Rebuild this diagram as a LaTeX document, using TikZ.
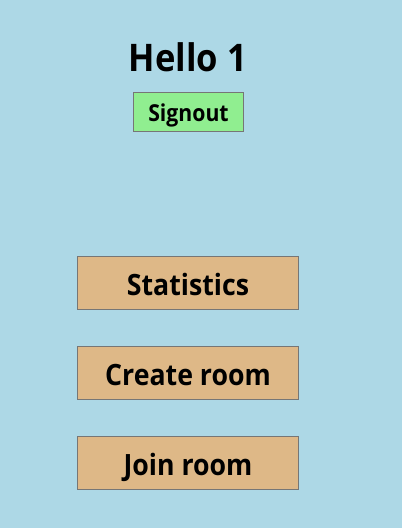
\documentclass[tikz,border=0pt]{standalone}
\usepackage{fontspec}
\setmainfont[FakeStretch=0.91]{Open Sans}
\definecolor{bg}{HTML}{ADD8E6}
\definecolor{btn}{HTML}{DEB887}
\definecolor{sgn}{HTML}{90EE90}
\definecolor{edge}{HTML}{767676}
\tikzset{
  btnbox/.style={draw=edge, line width=0.9pt, fill=btn},
  sgnbox/.style={draw=edge, line width=0.9pt, fill=sgn},
  btnlabel/.style={anchor=base, inner sep=0pt, font=\fontsize{22}{26}\selectfont\bfseries},
}
\begin{document}
\begin{tikzpicture}[x=0.75pt, y=-0.75pt]
\fill[bg] (0,0) rectangle (402,528);
\useasboundingbox (0,0) rectangle (402,528);
\node[anchor=base, inner sep=0pt, font=\fontsize{28.5}{32}\selectfont\bfseries] (hello) at (188,71) {Hello 1};
\draw[sgnbox] (133.5,92.5) rectangle (243.5,131.5);
\node[anchor=base, inner sep=0pt, font=\fontsize{17.5}{20}\selectfont\bfseries] (signout) at (188.5,121) {Signout};
\draw[btnbox] (77.5,256.5) rectangle (298.5,309.5);
\node[btnlabel] (stats) at (188,295) {Statistics};
\draw[btnbox] (77.5,346.5) rectangle (298.5,399.5);
\node[btnlabel] (create) at (188,385) {Create room};
\draw[btnbox] (77.5,436.5) rectangle (298.5,489.5);
\node[btnlabel] (join) at (188,475) {Join room};
\end{tikzpicture}
\end{document}
